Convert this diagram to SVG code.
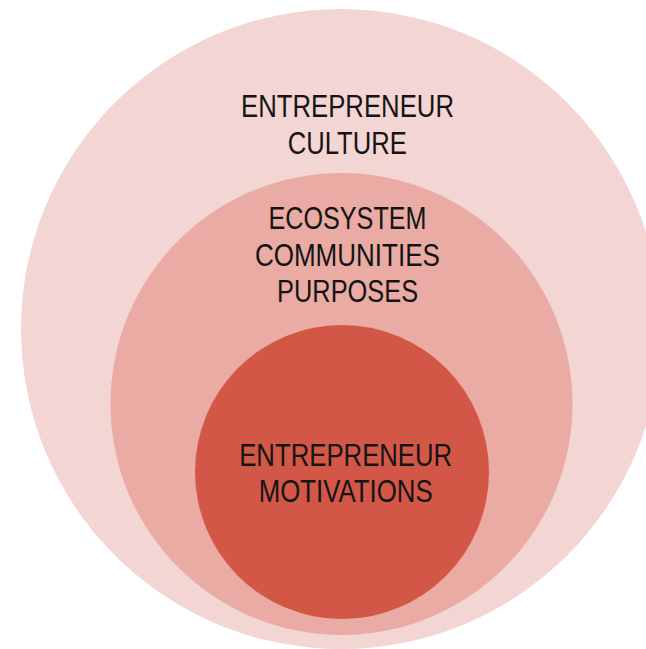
<svg xmlns="http://www.w3.org/2000/svg" width="646" height="649" viewBox="0 0 646 649">
<style>
  .lbl { font-family: "Liberation Sans", Arial, sans-serif; font-size: 32px; fill: #141414; text-anchor: middle; }
</style>
<rect width="646" height="649" fill="#ffffff"/>
<g id="culture">
  <circle cx="341" cy="329" r="320" fill="#f3d5d3"/>
  <text class="lbl" x="347.5" y="117" textLength="213" lengthAdjust="spacingAndGlyphs">ENTREPRENEUR</text>
  <text class="lbl" x="347.3" y="153.5" textLength="119" lengthAdjust="spacingAndGlyphs">CULTURE</text>
</g>
<g id="ecosystem">
  <circle cx="341.5" cy="404" r="231" fill="#e9aba3"/>
  <text class="lbl" x="347.5" y="228.5" textLength="158" lengthAdjust="spacingAndGlyphs">ECOSYSTEM</text>
  <text class="lbl" x="347.4" y="265.5" textLength="185" lengthAdjust="spacingAndGlyphs">COMMUNITIES</text>
  <text class="lbl" x="347.6" y="302" textLength="141" lengthAdjust="spacingAndGlyphs">PURPOSES</text>
</g>
<g id="motivations">
  <circle cx="342" cy="472" r="147" fill="#d35746"/>
  <text class="lbl" x="345.7" y="465.5" textLength="213" lengthAdjust="spacingAndGlyphs">ENTREPRENEUR</text>
  <text class="lbl" x="345.7" y="502" textLength="174" lengthAdjust="spacingAndGlyphs">MOTIVATIONS</text>
</g>
</svg>
